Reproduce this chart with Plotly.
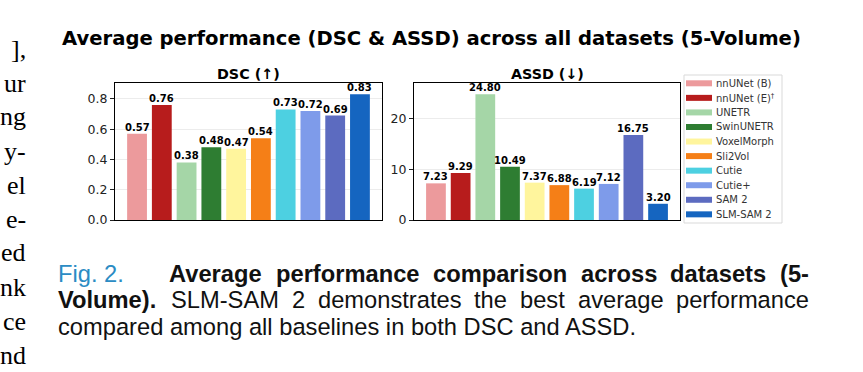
import plotly.graph_objects as go

# ---------------- data ----------------
models = ["nnUNet (B)", "nnUNet (E)<sup>†</sup>", "UNETR", "SwinUNETR", "VoxelMorph",
          "Sli2Vol", "Cutie", "Cutie+", "SAM 2", "SLM-SAM 2"]
colors = ["#EC9A9C", "#B71C1C", "#A5D6A7", "#2E7D32", "#FFF59D",
          "#F57F17", "#4DD0E1", "#7E9BEA", "#5C6BC0", "#1565C0"]
dsc = [0.57, 0.76, 0.38, 0.48, 0.47, 0.54, 0.73, 0.72, 0.69, 0.83]
assd = [7.23, 9.29, 24.80, 10.49, 7.37, 6.88, 6.19, 7.12, 16.75, 3.20]
dsc_tickvals = [0.0, 0.2, 0.4, 0.6, 0.8]
dsc_ticktext = ["0.0", "0.2", "0.4", "0.6", "0.8"]
assd_tickvals = [0, 10, 20]
assd_ticktext = ["0", "10", "20"]

title_text = "Average performance (DSC &amp; ASSD) across all datasets (5-Volume)"
sub1 = "DSC (↑)"
sub2 = "ASSD (↓)"
left_col = ["],", "ur", "ng", "y-", "el", "e-", "ed", "nk", "ce", "nd"]
cap_fig = "Fig. 2."
cap_l1 = ["Average", "performance", "comparison", "across", "datasets", "(5-"]
cap_l2 = [("Volume).", True), ("SLM-SAM", False), ("2", False), ("demonstrates", False),
          ("the", False), ("best", False), ("average", False), ("performance", False)]
cap_l3 = "compared among all baselines in both DSC and ASSD."

# ---------------- layout helpers ----------------
W, H = 863, 372
def px(x): return x / W
def py(y): return 1 - y / H

ARIAL = {' ': 278, 'a': 556, 'b': 556, 'c': 500, 'd': 556, 'e': 556, 'f': 278, 'g': 556, 'h': 556,
         'i': 222, 'j': 222, 'k': 500, 'l': 222, 'm': 833, 'n': 556, 'o': 556, 'p': 556, 'q': 556,
         'r': 333, 's': 500, 't': 278, 'u': 556, 'v': 500, 'w': 722, 'x': 500, 'y': 500, 'z': 500,
         'A': 667, 'B': 667, 'C': 722, 'D': 722, 'E': 667, 'F': 611, 'G': 778, 'L': 556, 'M': 833,
         'S': 667, 'V': 667, '.': 278, '-': 333, '(': 333, ')': 333, '2': 556, '5': 556}
ARIAL_B = {' ': 278, 'a': 556, 'b': 611, 'c': 556, 'd': 611, 'e': 556, 'f': 333, 'g': 611, 'h': 611,
           'i': 278, 'l': 278, 'm': 889, 'n': 611, 'o': 611, 'p': 611, 'r': 389, 's': 556, 't': 333,
           'u': 611, 'v': 556, 'A': 722, 'V': 667, '.': 278, '-': 333, '(': 333, ')': 333, '5': 556}

CAP_FONT = "Liberation Sans"
CAP_SIZE = 23.7

def wtext(s, bold):
    tab = ARIAL_B if bold else ARIAL
    return sum(tab.get(c, 556) for c in s) / 1000 * CAP_SIZE

annotations = []
shapes = []

def add_word(text, x, ymid, bold=False, color="#111111"):
    annotations.append(dict(
        text=("<b>%s</b>" % text) if bold else text, x=px(x), y=py(ymid),
        xref="paper", yref="paper", xanchor="left", yanchor="middle", showarrow=False,
        borderpad=0, font=dict(family=CAP_FONT, size=CAP_SIZE, color=color)))

def justify(words, x0, x1, ymid):
    widths = [wtext(w, b) for w, b in words]
    gap = (x1 - x0 - sum(widths)) / (len(words) - 1)
    x = x0
    for (w, b), wd in zip(words, widths):
        add_word(w, x, ymid, b)
        x += wd + gap

# ---------------- figure ----------------
idx = list(range(len(models)))
fig = go.Figure()
bar_common = dict(width=0.8, showlegend=False, hoverinfo="skip", cliponaxis=False,
                  marker=dict(color=colors, line=dict(width=0)))
fig.add_trace(go.Bar(x=idx, y=dsc, xaxis="x", yaxis="y", **bar_common))
fig.add_trace(go.Bar(x=idx, y=assd, xaxis="x2", yaxis="y2", **bar_common))

# value labels, placed through the axes' scales
for xa, ya, vals in [("x", "y", dsc), ("x2", "y2", assd)]:
    for i, v in zip(idx, vals):
        annotations.append(dict(text="<b>%.2f</b>" % v, x=i, y=v, xref=xa, yref=ya,
                                xanchor="center", yanchor="bottom", showarrow=False,
                                borderpad=0, yshift=0,
                                font=dict(family="DejaVu Sans", size=10, color="black")))

frame = dict(showline=True, mirror=True, linecolor="black", linewidth=1, zeroline=False)
xcommon = dict(range=[-0.89, len(models) - 1 + 0.89], showticklabels=False, ticks="",
               showgrid=False, **frame)
ycommon = dict(ticks="outside", ticklen=4, tickwidth=1, tickcolor="#222222",
               showgrid=True, gridcolor="#ececec", gridwidth=1,
               tickfont=dict(family="DejaVu Sans", size=12.5, color="#222222"), **frame)

fig.update_layout(
    width=W, height=H, autosize=False,
    margin=dict(l=0, r=0, t=0, b=0),
    template="none",
    paper_bgcolor="white", plot_bgcolor="white",
    xaxis=dict(domain=[px(115), px(382)], anchor="y", **xcommon),
    yaxis=dict(domain=[py(220), py(83)], anchor="x", range=[0, max(dsc) * 1.09],
               tickvals=dsc_tickvals, ticktext=dsc_ticktext, **ycommon),
    xaxis2=dict(domain=[px(414), px(680)], anchor="y2", **xcommon),
    yaxis2=dict(domain=[py(220), py(83)], anchor="x2", range=[0, max(assd) * 1.09],
                tickvals=assd_tickvals, ticktext=assd_ticktext, **ycommon),
    bargap=0.2,
)

# titles
annotations.append(dict(text="<b>%s</b>" % title_text, x=px(431.5), y=py(38.4), xref="paper",
                        yref="paper", xanchor="center", yanchor="middle", showarrow=False,
                        font=dict(family="DejaVu Sans", size=19.6, color="black")))
for t, cx in [(sub1, 248.5), (sub2, 547)]:
    annotations.append(dict(text="<b>%s</b>" % t, x=px(cx), y=py(74), xref="paper", yref="paper",
                            xanchor="center", yanchor="middle", showarrow=False,
                            font=dict(family="DejaVu Sans", size=14.3, color="black")))

# custom legend
shapes.append(dict(type="rect", xref="paper", yref="paper", x0=px(684), x1=px(782),
                   y0=py(223), y1=py(75), line=dict(color="#d9d9d9", width=1),
                   fillcolor="rgba(255,255,255,0)"))
for i, (lab, col) in enumerate(zip(models, colors)):
    yc = 83.3 + 14.56 * i
    shapes.append(dict(type="rect", xref="paper", yref="paper", x0=px(686), x1=px(712),
                       y0=py(yc + 3), y1=py(yc - 3), fillcolor=col, line=dict(width=0)))
    annotations.append(dict(text=lab, x=px(715), y=py(yc), xref="paper", yref="paper",
                            xanchor="left", yanchor="middle", showarrow=False, borderpad=0,
                            font=dict(family="DejaVu Sans", size=10, color="#333333")))

# left column fragments of the neighbouring text column (kept fully on the page)
for i, frag in enumerate(left_col):
    annotations.append(dict(text=frag, x=px(26.5), y=py(49 + 34 * i), xref="paper",
                            yref="paper", xanchor="right", yanchor="middle", showarrow=False,
                            borderpad=0, font=dict(family="Liberation Serif", size=26,
                                                   color="black")))

# caption
add_word(cap_fig, 57, 273.5, False, color="#2B8CC4")
justify([(w, True) for w in cap_l1], 168, 808, 273.5)
justify(cap_l2, 57, 808, 300.2)
add_word(cap_l3, 57, 326.8, False)

fig.update_layout(annotations=annotations, shapes=shapes)

fig.write_html("out.html", config={"displayModeBar": False},
               post_script="document.body.style.margin='0';document.body.style.overflow='hidden';")
